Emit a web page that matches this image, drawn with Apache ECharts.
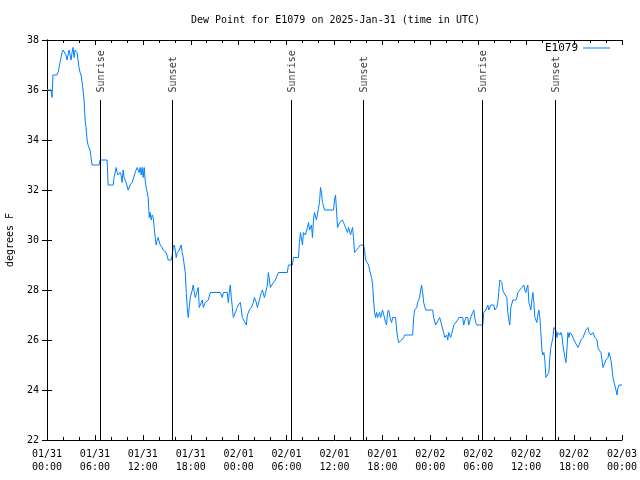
<!DOCTYPE html>
<html>
<head>
<meta charset="utf-8">
<script src="https://cdn.jsdelivr.net/npm/echarts@6/dist/echarts.min.js"></script>
<style>html,body{margin:0;padding:0;background:#fff}#c{width:640px;height:480px}</style>
</head>
<body>
<div id="c"></div>
<script>
// hours since 2025-01-31 00:00 UTC
const hours = [0.00,0.50,0.63,0.75,1.25,1.38,1.51,1.63,1.76,1.88,2.01,2.13,2.38,2.51,2.63,2.76,2.89,3.01,3.14,3.26,3.39,3.51,3.64,3.76,3.89,4.01,4.14,4.27,4.39,4.52,4.64,4.77,4.89,5.02,5.14,5.27,5.39,5.52,5.64,6.52,6.65,7.53,7.65,8.28,8.40,8.66,8.78,8.91,9.16,9.28,9.41,9.53,9.66,9.91,10.16,10.41,10.66,11.04,11.29,11.54,11.67,11.79,11.92,12.04,12.17,12.29,12.42,12.67,12.80,12.92,13.05,13.17,13.30,13.42,13.55,13.67,13.80,13.92,14.17,14.43,14.55,14.80,14.93,15.05,15.18,15.55,15.68,15.81,15.93,16.06,16.18,16.31,16.56,16.81,16.93,17.06,17.31,17.44,17.56,17.69,17.81,17.94,18.19,18.31,18.44,18.57,18.82,18.94,19.07,19.32,19.44,19.57,19.82,20.07,20.20,20.45,21.70,21.95,22.08,22.58,22.70,22.83,22.95,23.08,23.21,23.33,23.58,23.83,23.96,24.21,24.46,24.71,24.96,25.09,25.34,25.59,25.84,25.97,26.22,26.34,26.59,26.84,26.97,27.22,27.47,27.60,27.72,27.85,27.97,28.22,28.35,28.60,28.85,28.98,30.10,30.23,30.73,30.86,31.49,31.61,31.74,31.99,32.11,32.36,32.61,32.74,32.87,33.12,33.24,33.37,33.49,33.74,33.99,34.12,34.25,34.37,34.50,34.75,35.88,36.00,36.13,36.25,36.38,36.63,37.00,37.13,37.38,37.63,37.76,38.01,38.26,38.38,38.51,38.76,39.01,39.26,39.64,39.76,39.89,40.14,40.27,40.39,40.64,40.77,40.89,41.02,41.14,41.27,41.39,41.64,41.77,42.02,42.15,42.40,42.52,42.65,42.77,42.90,43.03,43.15,43.28,43.40,43.65,43.78,43.90,44.03,44.15,44.41,44.66,44.78,45.79,45.91,46.04,46.29,46.41,46.66,46.79,46.91,47.04,47.16,47.42,48.29,48.42,48.67,48.92,49.17,49.42,49.67,49.80,50.05,50.18,50.30,50.55,50.80,50.93,51.18,51.43,51.56,52.06,52.18,52.43,52.69,52.81,53.06,53.31,53.44,53.56,53.69,53.81,54.57,54.69,54.95,55.20,55.32,55.57,55.82,55.95,56.07,56.32,56.45,56.57,56.70,56.95,57.07,57.20,57.45,57.58,57.70,57.83,57.95,58.08,58.33,58.71,58.83,58.96,59.21,59.46,59.71,59.83,59.96,60.09,60.21,60.34,60.59,60.71,60.84,60.96,61.09,61.34,61.46,61.59,61.72,61.84,61.97,62.09,62.22,62.34,62.47,62.72,62.84,62.97,63.09,63.35,63.47,63.72,63.85,63.97,64.22,64.35,64.47,64.60,64.85,64.98,65.10,65.23,65.35,65.48,65.73,65.86,65.98,66.23,66.48,66.61,66.86,67.11,67.24,67.49,67.74,67.86,68.11,68.36,68.49,68.62,68.87,68.99,69.12,69.37,69.62,69.75,69.99,70.25,70.37,70.62,70.87,71.00,71.25,71.37,71.50,71.63,72.00];
const dewPoint = [36.0,36.0,35.7,36.6,36.6,36.7,36.9,37.1,37.3,37.5,37.6,37.6,37.4,37.2,37.4,37.6,37.4,37.2,37.5,37.7,37.3,37.6,37.6,37.5,37.2,36.9,36.7,36.6,36.3,36.0,35.6,34.8,34.5,34.0,33.8,33.8,33.6,33.3,33.0,33.0,33.2,33.2,32.2,32.2,32.5,32.9,32.7,32.6,32.7,32.6,32.3,32.8,32.5,32.3,32.0,32.2,32.3,32.7,32.9,32.7,32.9,32.6,32.9,32.5,32.9,32.4,32.1,31.7,30.9,31.1,30.8,31.0,30.9,30.5,30.1,29.8,30.0,30.1,29.8,29.7,29.6,29.6,29.5,29.5,29.2,29.2,29.4,29.7,29.8,29.6,29.3,29.5,29.6,29.8,29.5,29.3,28.7,27.9,27.3,26.9,27.3,27.7,28.0,28.2,27.9,27.7,27.7,28.1,27.3,27.5,27.6,27.3,27.5,27.5,27.6,27.9,27.9,27.7,27.9,27.9,27.5,27.9,28.2,27.7,27.3,26.9,26.9,27.3,27.4,27.5,26.9,26.9,26.6,27.0,27.2,27.3,27.5,27.7,27.5,27.3,27.6,27.9,28.0,27.7,27.7,28.2,28.7,28.4,28.1,28.1,28.3,28.4,28.4,28.7,28.7,29.0,29.0,29.3,29.3,29.9,30.3,29.8,30.3,30.2,30.5,30.7,30.4,30.6,30.1,30.8,31.1,30.8,30.8,31.5,32.1,31.9,31.5,31.2,31.2,31.6,31.8,31.2,30.5,30.7,30.8,30.7,30.5,30.3,30.5,30.2,30.5,30.1,29.5,29.5,29.7,29.8,29.8,29.6,29.2,29.2,29.0,28.8,28.5,28.2,27.6,27.1,26.9,27.1,26.9,27.1,26.9,27.2,27.2,26.7,26.6,27.1,27.2,27.0,26.8,26.7,26.9,26.9,26.9,26.4,26.1,25.9,25.9,26.0,26.1,26.2,26.2,26.9,27.2,27.3,27.5,27.7,28.0,28.2,27.9,27.5,27.2,27.2,26.9,26.6,26.6,26.9,26.6,26.3,26.1,26.2,26.0,26.3,26.1,26.4,26.6,26.6,26.8,26.9,26.9,26.6,26.9,26.9,26.6,26.9,27.1,27.2,26.9,26.7,26.6,26.6,27.1,27.2,27.4,27.2,27.4,27.4,27.4,27.2,27.3,27.5,27.9,28.4,28.3,28.0,27.9,27.9,27.7,27.1,26.8,26.6,27.3,27.6,27.6,27.7,27.9,27.9,28.1,28.2,28.0,27.9,28.1,28.2,27.5,27.2,27.6,27.9,27.5,26.9,26.7,27.0,27.2,26.9,26.3,25.6,25.4,25.5,25.2,24.5,24.5,24.7,25.3,25.7,26.1,26.5,26.4,26.1,26.3,26.2,26.3,26.2,25.8,25.3,25.1,25.6,26.3,26.1,26.3,26.2,26.1,26.0,26.0,25.7,25.8,26.0,26.1,26.2,26.4,26.5,26.3,26.2,26.3,26.3,26.1,26.0,25.7,25.6,25.5,24.9,24.9,25.2,25.3,25.5,25.2,24.5,24.3,24.0,23.8,24.1,24.2,24.2];
const sunTimes = [6.71, 15.73, 30.63, 39.64, 54.55, 63.69];
const sunNames = ['Sunrise', 'Sunset', 'Sunrise', 'Sunset', 'Sunrise', 'Sunset'];
const xTickLabels = ['01/31\n00:00','01/31\n06:00','01/31\n12:00','01/31\n18:00','02/01\n00:00','02/01\n06:00','02/01\n12:00','02/01\n18:00','02/02\n00:00','02/02\n06:00','02/02\n12:00','02/02\n18:00','02/03\n00:00'];
const yTicks = [22, 24, 26, 28, 30, 32, 34, 36, 38];

const FONT = 'DejaVu Sans Mono';
const lineColor = '#0080ff';
const sunLineTop = 35.6;
const sunLabelAt = 35.9;

const chart = echarts.init(document.getElementById('c'), null, {renderer: 'canvas'});
const axisCommon = {
  axisLine: {show: true, lineStyle: {color: '#000', width: 1}},
  splitLine: {show: false}
};
const xBase = Object.assign({}, axisCommon, {
  type: 'value', min: 0, max: 72, interval: 6,
  axisTick: {show: true, inside: true, length: 5, lineStyle: {color: '#000'}},
  minorTick: {show: true, splitNumber: 3, length: 3, lineStyle: {color: '#000'}},
  minorSplitLine: {show: false}
});
const yBase = Object.assign({}, axisCommon, {
  type: 'value', min: yTicks[0], max: yTicks[yTicks.length - 1], interval: 2,
  axisTick: {show: true, inside: true, length: 5, lineStyle: {color: '#000'}}
});

chart.setOption({
  animation: false,
  backgroundColor: '#fff',
  title: {
    text: 'Dew Point for E1079 on 2025-Jan-31 (time in UTC)',
    left: 186, top: 10,
    textStyle: {fontFamily: FONT, fontSize: 10, fontWeight: 'normal', color: '#000'}
  },
  legend: {
    data: [{name: 'E1079', icon: 'rect'}],
    right: 25, top: 37.5, align: 'right',
    itemWidth: 27, itemHeight: 1,
    textStyle: {fontFamily: FONT, fontSize: 11, color: '#000'}
  },
  grid: {left: 47, right: 18, top: 40, bottom: 40, containLabel: false, outerBoundsMode: 'none'},
  xAxis: [
    Object.assign({}, xBase, {
      position: 'bottom',
      axisLabel: {
        show: true, margin: 8, lineHeight: 13,
        fontFamily: FONT, fontSize: 10, color: '#000',
        formatter: v => xTickLabels[Math.round(v / 6)] || ''
      }
    }),
    Object.assign({}, xBase, {position: 'top', axisLabel: {show: false}})
  ],
  yAxis: [
    Object.assign({}, yBase, {
      position: 'left',
      name: 'degrees F', nameLocation: 'middle', nameRotate: 90, nameGap: 32,
      nameTextStyle: {fontFamily: FONT, fontSize: 10, color: '#000'},
      axisLabel: {show: true, margin: 8, fontFamily: FONT, fontSize: 10, color: '#000'}
    }),
    Object.assign({}, yBase, {position: 'right', axisLabel: {show: false}})
  ],
  series: [
    {
      name: 'E1079', type: 'line',
      data: hours.map((h, i) => [h, dewPoint[i]]),
      showSymbol: false, symbol: 'none',
      lineStyle: {color: lineColor, width: 1},
      itemStyle: {color: lineColor},
      z: 3
    },
    {
      name: 'sun', type: 'scatter',
      data: sunTimes.map((t, i) => ({value: [t, sunLabelAt], name: sunNames[i]})),
      symbolSize: 0.1,
      itemStyle: {color: 'rgba(0,0,0,0)'},
      silent: true,
      label: {
        show: true, formatter: p => p.name,
        position: [1, 0], rotate: 90, align: 'left', verticalAlign: 'middle',
        fontFamily: FONT, fontSize: 10, color: '#000'
      },
      markLine: {
        silent: true, symbol: ['none', 'none'],
        label: {show: false},
        lineStyle: {color: '#000', width: 1, type: 'solid'},
        data: sunTimes.map(t => [{coord: [t, yTicks[0]]}, {coord: [t, sunLineTop]}])
      },
      z: 2
    }
  ]
});
</script>
</body>
</html>
